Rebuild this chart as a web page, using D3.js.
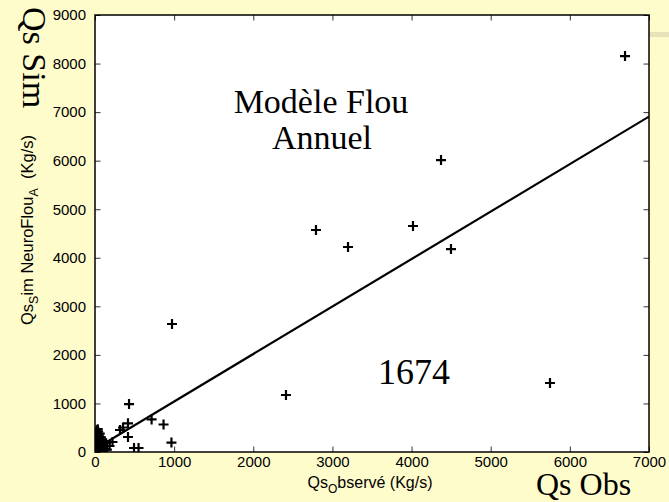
<!DOCTYPE html>
<html>
<head>
<meta charset="utf-8">
<script src="https://cdn.jsdelivr.net/npm/d3@7"></script>
<style>
  html, body { margin: 0; padding: 0; background: #fffccc; }
  svg { display: block; }
</style>
</head>
<body>
<svg id="chart" width="669" height="502"></svg>
<script>
// Observed vs simulated sediment discharge (Kg/s)
const obs = [6697, 4372, 4018, 2792, 3197, 4498, 973, 2413, 5749, 430,
  715, 866, 966, 417, 354, 316, 417, 493, 550, 221, 184,
  20, 40, 60, 30, 10, 50, 80, 20, 60, 100, 10, 40, 70, 120, 5, 30, 90, 150, 15, 0, 50, 25, 45, 110, 130, 75, 140, 35,
  0, 15, 35, 55, 85, 5, 25, 65, 95, 12, 48, 8, 70, 30];
const sim = [8155, 6013, 4654, 4572, 4222, 4180, 2636, 1174, 1421, 988,
  670, 566, 195, 590, 505, 453, 309, 82, 82, 206, 124,
  450, 420, 380, 350, 300, 280, 250, 200, 180, 150, 120, 100, 80, 60, 40, 20, 30, 50, 60, 0, 10, 160, 230, 220, 120, 300, 180, 470,
  250, 330, 130, 60, 120, 400, 260, 200, 70, 10, 340, 200, 5, 90];

// Least-squares fit line, end points
const fitX = [0, 7000];
const fitY = [62, 6908];

const xTicks = [0, 1000, 2000, 3000, 4000, 5000, 6000, 7000];
const yTicks = [0, 1000, 2000, 3000, 4000, 5000, 6000, 7000, 8000, 9000];

const svg = d3.select("#chart");
const W = 669, H = 502;
const m = { left: 95, top: 15, right: 20, bottom: 50 };
const pw = W - m.left - m.right, ph = H - m.top - m.bottom;

// slide decoration strip
svg.append("rect").attr("x", 649).attr("y", 32).attr("width", 20).attr("height", 5).attr("fill", "#e8e2bb");

const x = d3.scaleLinear().domain([0, 7000]).range([m.left, m.left + pw]);
const y = d3.scaleLinear().domain([0, 9000]).range([m.top + ph, m.top]);

svg.append("rect").attr("x", m.left).attr("y", m.top).attr("width", pw).attr("height", ph).attr("fill", "#fff");

const tickLen = 5.5;
const sans = "'Liberation Sans', Arial, sans-serif";
const serif = "'Liberation Serif', 'Times New Roman', serif";

// inward ticks on all four sides
const styleAxis = g => {
  g.select(".domain").remove();
  g.selectAll(".tick line").attr("stroke", "#333").attr("stroke-width", 1);
  g.selectAll("text").attr("font-family", sans).attr("font-size", 15).attr("fill", "#000");
};
svg.append("g").attr("transform", `translate(0,${m.top + ph})`)
  .call(d3.axisBottom(x).tickValues(xTicks).tickFormat(d3.format("d")).tickSizeInner(-tickLen).tickSizeOuter(0).tickPadding(4.5))
  .call(styleAxis);
svg.append("g").attr("transform", `translate(0,${m.top})`)
  .call(d3.axisTop(x).tickValues(xTicks).tickFormat("").tickSizeInner(-tickLen).tickSizeOuter(0))
  .call(styleAxis);
svg.append("g").attr("transform", `translate(${m.left},0)`)
  .call(d3.axisLeft(y).tickValues(yTicks).tickFormat(d3.format("d")).tickSizeInner(-tickLen).tickSizeOuter(0).tickPadding(9))
  .call(styleAxis);
svg.append("g").attr("transform", `translate(${m.left + pw},0)`)
  .call(d3.axisRight(y).tickValues(yTicks).tickFormat("").tickSizeInner(-tickLen).tickSizeOuter(0))
  .call(styleAxis);

// clip marks to the plot area
svg.append("clipPath").attr("id", "plotclip").append("rect")
  .attr("x", m.left).attr("y", m.top).attr("width", pw).attr("height", ph);
const plot = svg.append("g").attr("clip-path", "url(#plotclip)");

// fit line
plot.append("path")
  .datum(d3.zip(fitX, fitY))
  .attr("d", d3.line().x(d => x(d[0])).y(d => y(d[1])))
  .attr("fill", "none").attr("stroke", "#000").attr("stroke-width", 2.2);

// plus markers
const s = 5;
plot.selectAll("path.pt").data(d3.zip(obs, sim)).join("path")
  .attr("class", "pt")
  .attr("d", d => `M${x(d[0]) - s},${y(d[1])}H${x(d[0]) + s}M${x(d[0])},${y(d[1]) - s}V${y(d[1]) + s}`)
  .attr("stroke", "#000").attr("stroke-width", 2.2).attr("fill", "none");

// frame
svg.append("rect").attr("x", m.left).attr("y", m.top).attr("width", pw).attr("height", ph)
  .attr("fill", "none").attr("stroke", "#000").attr("stroke-width", 1.5);

// axis titles
const xt = svg.append("text").attr("x", m.left + pw / 2 - 2).attr("y", 488)
  .attr("text-anchor", "middle").attr("font-family", sans).attr("font-size", 16);
xt.append("tspan").text("Qs");
xt.append("tspan").attr("font-size", 12).attr("dy", 5).text("O");
xt.append("tspan").attr("dy", -5).text("bservé (Kg/s)");

const yt = svg.append("text").attr("transform", "translate(33,230) rotate(-90)")
  .attr("text-anchor", "middle").attr("font-family", sans).attr("font-size", 16.5)
  .attr("xml:space", "preserve");
yt.append("tspan").text("Qs");
yt.append("tspan").attr("font-size", 12.5).attr("dy", 5).text("S");
yt.append("tspan").attr("dy", -5).text("im NeuroFlou");
yt.append("tspan").attr("font-size", 12.5).attr("dy", 5).text("A");
yt.append("tspan").attr("dy", -5).text("  (Kg/s)");

// annotations
svg.append("text").attr("x", 321).attr("y", 113).attr("text-anchor", "middle")
  .attr("font-family", serif).attr("font-size", 34).text("Modèle Flou");
svg.append("text").attr("x", 322).attr("y", 149).attr("text-anchor", "middle")
  .attr("font-family", serif).attr("font-size", 34).text("Annuel");
svg.append("text").attr("x", 378).attr("y", 384)
  .attr("font-family", serif).attr("font-size", 36).text("1674");
svg.append("text").attr("x", 536).attr("y", 494.5)
  .attr("font-family", serif).attr("font-size", 32).text("Qs Obs");
svg.append("text").attr("transform", "translate(23,7) rotate(90)")
  .attr("font-family", serif).attr("font-size", 34).text("Qs Sim");
</script>
</body>
</html>
